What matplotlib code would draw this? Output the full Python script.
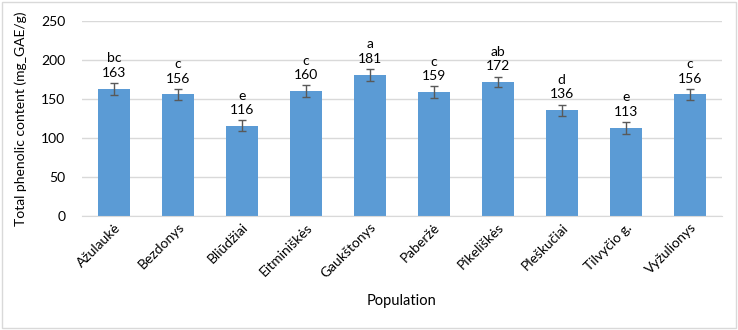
import numpy as np
import matplotlib.pyplot as plt
from matplotlib.patches import Rectangle

populations = ['Ažulaukė', 'Bezdonys', 'Bliūdžiai', 'Eitminiškės', 'Gaukštonys',
               'Paberžė', 'Pikeliškės', 'Pleškučiai', 'Tilvyčio g.', 'Vyžulionys']
values = [163, 156, 116, 160, 181, 159, 172, 136, 113, 156]
errors = [7.5, 7, 7, 7.5, 7.5, 7.5, 7, 7, 7.5, 7]
letters = ['bc', 'c', 'e', 'c', 'a', 'c', 'ab', 'd', 'e', 'c']

plt.rcParams['font.family'] = ['Lato', 'DejaVu Sans']

fig = plt.figure(figsize=(7.38, 3.3), dpi=100)
ax = fig.add_axes([0.111, 0.345, 0.867, 0.591])

x = np.arange(len(populations))
ax.bar(x, values, width=0.5, color='#5B9BD5', zorder=2)
ax.errorbar(x, values, yerr=errors, fmt='none', ecolor='#595959',
            elinewidth=1, capsize=3, capthick=1, zorder=3)

for xi, v, e, l in zip(x, values, errors, letters):
    ax.annotate(f'{l}\n{v}', (xi, v + e), xytext=(0, 3), textcoords='offset points',
                ha='center', va='bottom', fontsize=10, color='#000000',
                linespacing=1.25)

ax.set_ylim(0, 250)
ax.set_xlim(-0.5, len(populations) - 0.5)
ax.set_yticks(np.arange(0, 251, 50))
ax.yaxis.grid(True, color='#D9D9D9', linewidth=1, zorder=0)
ax.set_axisbelow(True)
for s in ['top', 'right', 'left']:
    ax.spines[s].set_visible(False)
ax.spines['bottom'].set_color('#D9D9D9')
ax.tick_params(axis='both', length=0, labelsize=10, colors='#000000')
ax.tick_params(axis='y', pad=12)
ax.set_xticks(x)
ax.set_xticklabels(populations, rotation=45, ha='right', rotation_mode='anchor')
ax.set_xlabel('Population', fontsize=10.5, labelpad=10)
ax.set_ylabel('Total phenolic content (mg_GAE/g)', fontsize=10, labelpad=10)

fig.patches.append(Rectangle((0.003, 0.005), 0.994, 0.99, transform=fig.transFigure,
                             fill=False, edgecolor='#D9D9D9', linewidth=1))

fig.savefig('out.png', dpi=100)
